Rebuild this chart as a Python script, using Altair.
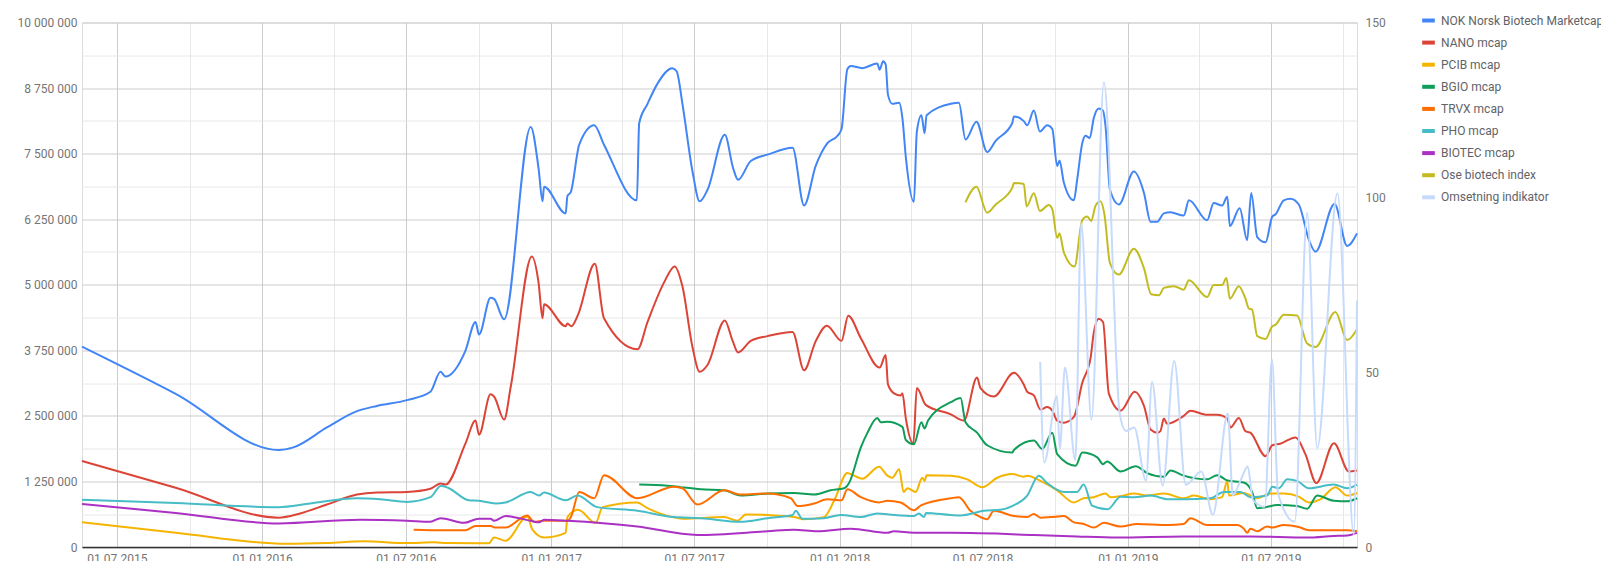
import altair as alt
import pandas as pd

# ---- series names and colours ----
SERIES = ["NOK Norsk Biotech Marketcap", "NANO mcap", "PCIB mcap", "BGIO mcap",
          "TRVX mcap", "PHO mcap", "BIOTEC mcap", "Ose biotech index", "Omsetning indikator"]
COLORS = ["#4285F4", "#DB4437", "#F4B400", "#0F9D58", "#FF6D00", "#46BDC6",
          "#AB30C4", "#C2BC22", "#C6DAFC"]

# ---- values: (decimal year, value) ; left series in millions NOK, right series index ----
NOK = [(2015.375, 3.82), (2015.700, 2.92), (2016.056, 1.85), (2016.108, 1.90), (2016.224, 2.28), (2016.328, 2.59),
       (2016.397, 2.69), (2016.501, 2.80), (2016.582, 2.96), (2016.617, 3.34), (2016.634, 3.25),
       (2016.703, 3.74), (2016.738, 4.29), (2016.750, 4.05), (2016.790, 4.75), (2016.802, 4.73),
       (2016.837, 4.34), (2016.929, 8.01), (2016.956, 7.22), (2016.970, 6.59), (2016.975, 6.87),
       (2017.050, 6.36), (2017.056, 6.69), (2017.068, 6.77), (2017.097, 7.67), (2017.149, 8.04),
       (2017.183, 7.67), (2017.297, 6.61), (2017.305, 8.08), (2017.334, 8.45), (2017.368, 8.83),
       (2017.420, 9.13), (2017.435, 9.07), (2017.455, 8.45), (2017.490, 7.16), (2017.515, 6.59),
       (2017.542, 6.81), (2017.602, 7.86), (2017.631, 7.22), (2017.648, 7.00), (2017.692, 7.36),
       (2017.750, 7.48), (2017.837, 7.61), (2017.877, 6.51), (2017.917, 7.26), (2017.958, 7.70),
       (2017.993, 7.84), (2018.007, 7.97), (2018.027, 9.11), (2018.039, 9.17), (2018.079, 9.13),
       (2018.131, 9.22), (2018.139, 9.10), (2018.151, 9.26), (2018.160, 9.20), (2018.168, 8.62),
       (2018.183, 8.45), (2018.207, 8.47), (2018.218, 8.18), (2018.230, 7.43), (2018.258, 6.58),
       (2018.268, 7.91), (2018.284, 8.23), (2018.295, 7.89), (2018.302, 8.23), (2018.386, 8.45),
       (2018.414, 8.47), (2018.437, 7.77), (2018.475, 8.11), (2018.512, 7.53), (2018.541, 7.74),
       (2018.599, 8.08), (2018.605, 8.21), (2018.639, 8.12), (2018.651, 8.04), (2018.674, 8.32),
       (2018.695, 7.92), (2018.720, 8.04), (2018.738, 7.97), (2018.755, 7.26), (2018.763, 7.37),
       (2018.778, 6.95), (2018.813, 6.61), (2018.824, 6.99), (2018.842, 7.70), (2018.853, 7.84),
       (2018.868, 7.80), (2018.882, 8.18), (2018.899, 8.36), (2018.914, 8.32), (2018.923, 8.01),
       (2018.938, 6.81), (2018.969, 6.53), (2019.021, 7.16), (2019.056, 6.75), (2019.079, 6.20),
       (2019.102, 6.20), (2019.125, 6.36), (2019.148, 6.38), (2019.194, 6.32), (2019.212, 6.61),
       (2019.275, 6.23), (2019.298, 6.56), (2019.327, 6.51), (2019.345, 6.68), (2019.354, 6.12),
       (2019.388, 6.46), (2019.414, 5.85), (2019.428, 6.75), (2019.449, 5.91), (2019.478, 5.81),
       (2019.501, 6.30), (2019.512, 6.34), (2019.541, 6.61), (2019.564, 6.64), (2019.593, 6.53),
       (2019.628, 5.86), (2019.651, 5.63), (2019.717, 6.54), (2019.761, 5.74), (2019.795, 5.98)]

NANO = [(2015.375, 1.64), (2015.700, 1.13), (2016.056, 0.56), (2016.131, 0.64), (2016.224, 0.81), (2016.328, 1.00),
        (2016.397, 1.04), (2016.501, 1.05), (2016.582, 1.11), (2016.617, 1.21), (2016.634, 1.19),
        (2016.703, 1.97), (2016.738, 2.41), (2016.750, 2.14), (2016.790, 2.91), (2016.802, 2.87),
        (2016.837, 2.43), (2016.860, 3.06), (2016.933, 5.54), (2016.956, 5.04), (2016.970, 4.36),
        (2016.975, 4.63), (2017.050, 4.21), (2017.056, 4.26), (2017.070, 4.21), (2017.093, 4.43),
        (2017.151, 5.40), (2017.183, 4.36), (2017.299, 3.77), (2017.334, 4.29), (2017.391, 5.04),
        (2017.428, 5.35), (2017.455, 4.97), (2017.490, 3.81), (2017.515, 3.34), (2017.542, 3.47),
        (2017.602, 4.32), (2017.628, 3.95), (2017.648, 3.71), (2017.692, 3.93), (2017.750, 4.02),
        (2017.837, 4.10), (2017.877, 3.37), (2017.917, 3.92), (2017.956, 4.22), (2018.007, 3.93),
        (2018.030, 4.41), (2018.074, 3.98), (2018.139, 3.42), (2018.160, 3.66), (2018.168, 3.10),
        (2018.189, 2.93), (2018.212, 2.89), (2018.218, 2.93), (2018.230, 2.45), (2018.256, 1.97),
        (2018.268, 3.03), (2018.299, 2.71), (2018.386, 2.53), (2018.431, 2.41), (2018.477, 3.23),
        (2018.489, 3.03), (2018.535, 2.87), (2018.605, 3.32), (2018.639, 3.10), (2018.651, 2.96),
        (2018.674, 2.89), (2018.697, 2.62), (2018.720, 2.67), (2018.738, 2.60), (2018.755, 2.41),
        (2018.778, 2.37), (2018.813, 2.48), (2018.842, 3.13), (2018.871, 3.61), (2018.882, 4.09),
        (2018.899, 4.35), (2018.914, 4.29), (2018.934, 2.93), (2018.975, 2.60), (2019.024, 2.96),
        (2019.056, 2.69), (2019.079, 2.24), (2019.102, 2.18), (2019.113, 2.21), (2019.125, 2.45),
        (2019.136, 2.35), (2019.194, 2.50), (2019.217, 2.60), (2019.275, 2.52), (2019.310, 2.52),
        (2019.345, 2.45), (2019.356, 2.28), (2019.385, 2.46), (2019.408, 2.21), (2019.425, 2.18),
        (2019.478, 1.73), (2019.501, 1.94), (2019.529, 1.97), (2019.582, 2.09), (2019.616, 1.77),
        (2019.654, 1.22), (2019.715, 1.98), (2019.767, 1.44), (2019.795, 1.46)]

PCIB = [(2015.375, 0.47), (2015.700, 0.27), (2016.085, 0.06), (2016.224, 0.075), (2016.351, 0.11), (2016.501, 0.075),
        (2016.594, 0.09), (2016.640, 0.075), (2016.784, 0.07), (2016.802, 0.18), (2016.842, 0.12),
        (2016.917, 0.58), (2016.935, 0.33), (2016.975, 0.18), (2017.050, 0.27), (2017.056, 0.57),
        (2017.093, 0.71), (2017.154, 0.46), (2017.178, 0.76), (2017.297, 0.85), (2017.334, 0.74),
        (2017.420, 0.57), (2017.455, 0.54), (2017.600, 0.57), (2017.646, 0.50), (2017.675, 0.62),
        (2017.750, 0.61), (2017.842, 0.57), (2017.877, 0.53), (2017.946, 0.57), (2017.981, 0.88),
        (2018.027, 1.41), (2018.039, 1.39), (2018.079, 1.30), (2018.137, 1.53), (2018.166, 1.36),
        (2018.183, 1.32), (2018.207, 1.48), (2018.222, 1.05), (2018.236, 1.12), (2018.264, 1.05),
        (2018.287, 1.32), (2018.295, 1.26), (2018.302, 1.37), (2018.386, 1.36), (2018.443, 1.29),
        (2018.495, 1.14), (2018.547, 1.32), (2018.599, 1.39), (2018.639, 1.34), (2018.651, 1.36),
        (2018.697, 1.26), (2018.755, 1.08), (2018.813, 0.85), (2018.847, 0.93), (2018.882, 0.95),
        (2018.923, 1.02), (2018.940, 0.95), (2018.975, 0.97), (2019.021, 1.02), (2019.067, 0.98),
        (2019.125, 1.02), (2019.194, 0.93), (2019.229, 0.98), (2019.287, 0.91), (2019.327, 0.95),
        (2019.345, 1.26), (2019.351, 0.98), (2019.402, 1.03), (2019.449, 0.93), (2019.495, 1.02),
        (2019.541, 1.02), (2019.593, 0.96), (2019.628, 0.85), (2019.668, 0.91), (2019.720, 1.14),
        (2019.761, 0.98), (2019.795, 1.03)]

BGIO = [(2017.305, 1.19), (2017.403, 1.17), (2017.449, 1.14), (2017.519, 1.10), (2017.600, 1.08),
        (2017.657, 0.98), (2017.750, 1.02), (2017.842, 1.03), (2017.912, 1.00), (2017.969, 1.08),
        (2018.016, 1.12), (2018.033, 1.22), (2018.074, 1.90), (2018.097, 2.18), (2018.131, 2.46),
        (2018.143, 2.38), (2018.166, 2.39), (2018.218, 2.29), (2018.230, 2.04), (2018.258, 1.96),
        (2018.284, 2.38), (2018.295, 2.26), (2018.307, 2.41), (2018.386, 2.76), (2018.420, 2.84),
        (2018.437, 2.38), (2018.477, 2.18), (2018.512, 1.94), (2018.599, 1.80), (2018.605, 1.85),
        (2018.674, 2.03), (2018.703, 1.87), (2018.738, 2.18), (2018.755, 1.77), (2018.819, 1.55),
        (2018.842, 1.80), (2018.894, 1.71), (2018.914, 1.58), (2018.928, 1.63), (2018.975, 1.44),
        (2019.027, 1.54), (2019.067, 1.41), (2019.125, 1.34), (2019.148, 1.46), (2019.194, 1.36),
        (2019.275, 1.29), (2019.310, 1.37), (2019.345, 1.27), (2019.402, 1.23), (2019.431, 1.05),
        (2019.449, 0.74), (2019.478, 0.76), (2019.518, 0.80), (2019.587, 0.78), (2019.622, 0.73),
        (2019.657, 0.98), (2019.715, 0.88), (2019.761, 0.87), (2019.795, 0.93)]

TRVX = [(2016.524, 0.33), (2016.628, 0.32), (2016.703, 0.32), (2016.738, 0.40), (2016.790, 0.40),
        (2016.807, 0.37), (2016.842, 0.37), (2016.917, 0.60), (2016.940, 0.48), (2016.975, 0.50),
        (2017.056, 0.50), (2017.068, 0.57), (2017.097, 1.05), (2017.149, 0.93), (2017.183, 1.37),
        (2017.299, 0.93), (2017.426, 1.15), (2017.455, 1.12), (2017.507, 0.81), (2017.600, 1.08),
        (2017.657, 1.00), (2017.750, 1.02), (2017.831, 0.93), (2017.854, 0.78), (2017.912, 0.83),
        (2017.958, 0.91), (2018.007, 0.89), (2018.027, 1.10), (2018.074, 0.95), (2018.137, 0.85),
        (2018.166, 0.88), (2018.212, 0.85), (2018.258, 0.70), (2018.284, 0.80), (2018.386, 0.93),
        (2018.414, 0.95), (2018.454, 0.69), (2018.489, 0.57), (2018.512, 0.53), (2018.535, 0.69),
        (2018.605, 0.59), (2018.651, 0.57), (2018.674, 0.63), (2018.697, 0.56), (2018.732, 0.57),
        (2018.778, 0.59), (2018.813, 0.47), (2018.847, 0.44), (2018.882, 0.37), (2018.917, 0.46),
        (2018.975, 0.39), (2019.032, 0.44), (2019.136, 0.42), (2019.194, 0.44), (2019.217, 0.55),
        (2019.275, 0.42), (2019.379, 0.42), (2019.402, 0.35), (2019.414, 0.27), (2019.425, 0.35),
        (2019.449, 0.30), (2019.483, 0.39), (2019.501, 0.37), (2019.541, 0.42), (2019.593, 0.38),
        (2019.628, 0.32), (2019.761, 0.32), (2019.795, 0.30)]

PHO = [(2015.375, 0.90), (2015.700, 0.84), (2016.056, 0.76), (2016.166, 0.83), (2016.328, 0.93), (2016.409, 0.91),
       (2016.501, 0.86), (2016.582, 0.95), (2016.619, 1.17), (2016.646, 1.12), (2016.715, 0.89),
       (2016.750, 0.88), (2016.807, 0.83), (2016.842, 0.85), (2016.929, 1.05), (2016.958, 0.98),
       (2016.975, 1.04), (2017.050, 0.89), (2017.091, 0.98), (2017.160, 0.76), (2017.299, 0.69),
       (2017.426, 0.57), (2017.519, 0.55), (2017.657, 0.48), (2017.750, 0.55), (2017.837, 0.61),
       (2017.848, 0.69), (2017.871, 0.54), (2017.946, 0.55), (2018.004, 0.61), (2018.074, 0.57),
       (2018.131, 0.64), (2018.172, 0.62), (2018.258, 0.59), (2018.275, 0.64), (2018.293, 0.57),
       (2018.300, 0.65), (2018.386, 0.61), (2018.420, 0.60), (2018.501, 0.69), (2018.558, 0.71),
       (2018.599, 0.78), (2018.651, 0.98), (2018.691, 1.36), (2018.720, 1.22), (2018.778, 1.05),
       (2018.824, 1.05), (2018.847, 1.19), (2018.876, 0.79), (2018.930, 0.72), (2018.975, 0.96),
       (2019.021, 0.95), (2019.079, 0.98), (2019.141, 0.91), (2019.194, 0.91), (2019.287, 0.93),
       (2019.333, 1.05), (2019.391, 1.05), (2019.425, 0.95), (2019.483, 0.98), (2019.501, 1.15),
       (2019.524, 1.12), (2019.553, 1.29), (2019.587, 1.26), (2019.628, 1.12), (2019.714, 1.19),
       (2019.761, 1.12), (2019.795, 1.19)]

BIOTEC = [(2015.375, 0.82), (2015.700, 0.65), (2016.056, 0.45), (2016.339, 0.52), (2016.501, 0.50), (2016.582, 0.48),
          (2016.617, 0.55), (2016.698, 0.46), (2016.750, 0.54), (2016.790, 0.54), (2016.802, 0.50),
          (2016.842, 0.59), (2016.929, 0.50), (2016.958, 0.47), (2016.975, 0.52), (2017.056, 0.50),
          (2017.299, 0.39), (2017.507, 0.23), (2017.750, 0.30), (2017.842, 0.33), (2017.923, 0.30),
          (2018.039, 0.35), (2018.166, 0.27), (2018.189, 0.30), (2018.258, 0.27), (2018.386, 0.27),
          (2018.674, 0.23), (2018.824, 0.20), (2018.963, 0.18), (2019.194, 0.20), (2019.425, 0.20),
          (2019.622, 0.18), (2019.714, 0.21), (2019.761, 0.22), (2019.795, 0.27)]

OSE = [(2018.437, 98.6), (2018.475, 103.0), (2018.512, 95.6), (2018.541, 97.9), (2018.599, 102.7),
       (2018.605, 104.1), (2018.639, 103.8), (2018.649, 97.4), (2018.674, 101.2), (2018.695, 96.1),
       (2018.726, 97.8), (2018.738, 96.6), (2018.755, 88.4), (2018.763, 89.7), (2018.778, 84.3),
       (2018.815, 80.2), (2018.842, 93.5), (2018.859, 94.5), (2018.873, 93.2), (2018.888, 97.6),
       (2018.905, 98.9), (2018.919, 95.1), (2018.938, 81.2), (2018.969, 77.9), (2019.021, 85.3),
       (2019.056, 79.7), (2019.081, 72.3), (2019.108, 72.0), (2019.125, 74.1), (2019.160, 74.6),
       (2019.194, 73.6), (2019.212, 76.3), (2019.275, 71.5), (2019.298, 74.9), (2019.327, 74.9),
       (2019.342, 76.9), (2019.354, 71.0), (2019.385, 74.6), (2019.408, 71.0), (2019.420, 68.2),
       (2019.431, 67.9), (2019.449, 60.3), (2019.478, 59.5), (2019.501, 63.1), (2019.512, 63.5),
       (2019.541, 66.4), (2019.587, 66.2), (2019.622, 58.2), (2019.651, 57.2), (2019.720, 67.2),
       (2019.761, 59.2), (2019.795, 62.3)]

OMSETNING = [(2018.696, 52.9), (2018.710, 24.2), (2018.754, 43.2), (2018.764, 28.0), (2018.782, 51.3),
             (2018.818, 24.8), (2018.838, 92.6), (2018.874, 36.4), (2018.917, 132.9), (2018.972, 38.0),
             (2018.994, 33.2), (2019.022, 34.2), (2019.063, 19.0), (2019.084, 47.2), (2019.121, 17.6),
             (2019.161, 53.2), (2019.201, 17.8), (2019.255, 21.6), (2019.295, 9.2), (2019.347, 38.2),
             (2019.364, 14.8), (2019.391, 19.0), (2019.416, 23.0), (2019.434, 13.5), (2019.475, 11.5),
             (2019.500, 53.6), (2019.521, 15.3), (2019.579, 7.2), (2019.622, 95.6), (2019.657, 28.3),
             (2019.727, 101.2), (2019.784, 3.5), (2019.795, 70.5)]

LEFT_TICKS = [i * 625000 for i in range(17)]
RIGHT_TICKS = [0, 50, 100, 150]
QUARTERS = [(2015, 7), (2015, 10), (2016, 1), (2016, 4), (2016, 7), (2016, 10), (2017, 1), (2017, 4),
            (2017, 7), (2017, 10), (2018, 1), (2018, 4), (2018, 7), (2018, 10), (2019, 1), (2019, 4),
            (2019, 7), (2019, 10)]


def to_ts(y):
    yr = int(y)
    start = pd.Timestamp(yr, 1, 1)
    end = pd.Timestamp(yr + 1, 1, 1)
    return (start + (end - start) * (y - yr)).round("h")


left_rows, right_rows = [], []
for i, pts in enumerate([NOK, NANO, PCIB, BGIO, TRVX, PHO, BIOTEC]):
    for yv, v in pts:
        left_rows.append({"date": to_ts(yv), "value": v * 1e6, "series": SERIES[i], "o": i})
for i, pts in [(7, OSE), (8, OMSETNING)]:
    for yv, v in pts:
        right_rows.append({"date": to_ts(yv), "value": v, "series": SERIES[i], "o": i})
left_df = pd.DataFrame(left_rows)
right_df = pd.DataFrame(right_rows)

FONT = "Roboto"
LBL = "#757575"

color = alt.Color("series:N", scale=alt.Scale(domain=SERIES, range=COLORS),
                  sort=SERIES,
                  legend=alt.Legend(title=None, orient="none", legendX=1338, legendY=-10.5,
                                    symbolType="stroke", symbolStrokeWidth=4, symbolSize=160,
                                    labelFont=FONT, labelFontSize=12, labelColor="#5f6368",
                                    rowPadding=5.1, padding=0, labelOffset=4, labelLimit=400))

xaxis = alt.Axis(values=[alt.DateTime(year=y, month=m, date=1) for y, m in QUARTERS],
                 labelExpr="(month(datum.value) % 6 == 0) ? timeFormat(datum.value, '%d.%m.%Y') : ''",
                 gridColor={"condition": {"test": "month(datum.value) % 6 == 0", "value": "#cccccc"},
                            "value": "#e8e8e8"},
                 ticks=False, domainColor="#333333", domainWidth=1.5, labelPadding=6,
                 labelFont=FONT, labelFontSize=12, labelColor=LBL, labelFlush=False,
                 labelOverlap=False, title=None)

x = alt.X("date:T", scale=alt.Scale(nice=False), axis=xaxis)

left = alt.Chart(left_df).mark_line(interpolate="monotone", strokeWidth=2).encode(
    x=x,
    y=alt.Y("value:Q", scale=alt.Scale(domain=[0, 10000000], nice=False),
            axis=alt.Axis(values=LEFT_TICKS,
                          labelExpr="datum.value % 1250000 == 0 ? replace(format(datum.value, ','), regexp(',', 'g'), ' ') : ''",
                          gridColor={"condition": {"test": "datum.value % 1250000 == 0", "value": "#cccccc"},
                                     "value": "#e8e8e8"},
                          ticks=False, domain=False, labelPadding=5, labelFont=FONT,
                          labelFontSize=12, labelColor=LBL, title=None)),
    color=color,
    order="o:Q",
)

right = alt.Chart(right_df).mark_line(interpolate="monotone", strokeWidth=2).encode(
    x=x,
    y=alt.Y("value:Q", scale=alt.Scale(domain=[0, 150], nice=False),
            axis=alt.Axis(orient="right", values=RIGHT_TICKS, grid=False, ticks=False, domain=False,
                          labelPadding=8, labelFont=FONT, labelFontSize=12, labelColor=LBL, title=None)),
    color=color,
)

chart = alt.layer(left, right).resolve_scale(y="independent").properties(
    width=1275, height=524.5,
    autosize=alt.AutoSizeParams(type="none"),
    padding={"left": 74, "top": 14.5, "right": 244, "bottom": 14},
).configure_view(strokeWidth=0).configure(font=FONT)

chart.save("out.html", embed_options={"renderer": "svg", "actions": False})
